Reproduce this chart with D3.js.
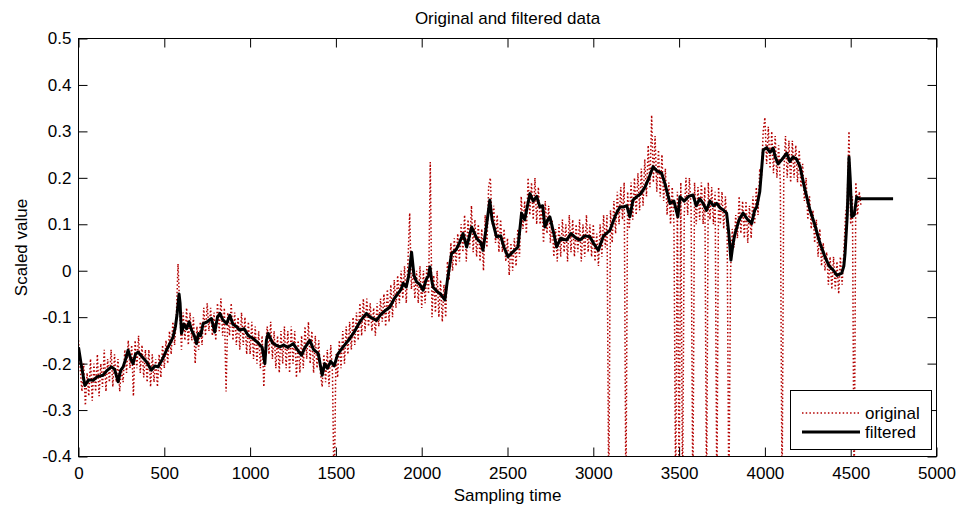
<!DOCTYPE html>
<html>
<head>
<meta charset="utf-8">
<script src="https://cdn.jsdelivr.net/npm/d3@7"></script>
<style>
  html, body { margin: 0; padding: 0; background: #ffffff; }
  svg { display: block; }
  text { font-family: "Liberation Sans", Arial, Helvetica, sans-serif; fill: #000; }
</style>
</head>
<body>
<svg id="chart" width="956" height="508"></svg>
<script>
// ---------- data ----------
const titleText = "Original and filtered data";
const xLabelText = "Sampling time";
const yLabelText = "Scaled value";
const seriesNames = ["original", "filtered"];

const xTicks = [0, 500, 1000, 1500, 2000, 2500, 3000, 3500, 4000, 4500, 5000];
const xTickLabels = ["0", "500", "1000", "1500", "2000", "2500", "3000", "3500", "4000", "4500", "5000"];
const yTicks = [-0.4, -0.3, -0.2, -0.1, 0, 0.1, 0.2, 0.3, 0.4, 0.5];
const yTickLabels = ["-0.4", "-0.3", "-0.2", "-0.1", "0", "0.1", "0.2", "0.3", "0.4", "0.5"];

// original (noisy) signal, one reading every 10 samples
const originalStep = 10;
const originalValues = [
  -0.15, -0.21, -0.26, -0.2, -0.29, -0.22, -0.27, -0.19, -0.28, -0.2, -0.26, -0.18, -0.27, -0.2, -0.25, -0.17, -0.26, -0.19, -0.24, -0.17,
  -0.25, -0.18, -0.24, -0.19, -0.26, -0.21, -0.24, -0.17, -0.22, -0.15, -0.21, -0.16, -0.27, -0.15, -0.21, -0.14, -0.22, -0.16, -0.23, -0.17,
  -0.24, -0.17, -0.25, -0.18, -0.24, -0.19, -0.25, -0.18, -0.23, -0.16, -0.21, -0.15, -0.2, -0.13, -0.18, -0.11, -0.16, -0.1, 0.015, -0.08,
  -0.17, -0.09, -0.15, -0.08, -0.16, -0.09, -0.15, -0.1, -0.2, -0.12, -0.17, -0.11, -0.16, -0.08, -0.14, -0.07, -0.13, -0.08, -0.14, -0.09,
  -0.15, -0.07, -0.13, -0.06, -0.14, -0.08, -0.26, -0.09, -0.14, -0.07, -0.15, -0.09, -0.16, -0.1, -0.17, -0.09, -0.16, -0.1, -0.18, -0.11,
  -0.18, -0.11, -0.19, -0.12, -0.2, -0.13, -0.21, -0.14, -0.25, -0.16, -0.12, -0.18, -0.11, -0.19, -0.13, -0.21, -0.14, -0.22, -0.13, -0.2,
  -0.12, -0.21, -0.13, -0.22, -0.12, -0.2, -0.13, -0.23, -0.15, -0.22, -0.14, -0.21, -0.12, -0.19, -0.11, -0.2, -0.13, -0.22, -0.14, -0.21,
  -0.15, -0.22, -0.25, -0.18, -0.24, -0.17, -0.25, -0.16, -0.22, -0.5, -0.18, -0.23, -0.15, -0.21, -0.13, -0.2, -0.12, -0.18, -0.11, -0.17,
  -0.1, -0.16, -0.09, -0.15, -0.07, -0.14, -0.06, -0.13, -0.06, -0.12, -0.07, -0.13, -0.08, -0.14, -0.07, -0.12, -0.06, -0.11, -0.05, -0.12,
  -0.04, -0.11, -0.03, -0.1, -0.02, -0.08, -0.01, -0.07, 0.0, -0.06, 0.01, -0.07, 0.02, 0.124, -0.04, 0.01, -0.06, 0.0, -0.07, 0.01,
  -0.08, 0.0, -0.07, 0.01, -0.05, 0.234, -0.1, -0.01, -0.09, 0.0, -0.1, -0.02, -0.11, -0.03, -0.1, 0.02, -0.02, 0.06, 0.0, 0.07,
  0.01, 0.08, 0.02, 0.1, 0.04, 0.12, 0.02, 0.11, 0.05, 0.14, 0.04, 0.11, 0.03, 0.1, 0.02, 0.09, 0.0, 0.12, 0.05, 0.18,
  0.2, 0.1, 0.14, 0.06, 0.12, 0.04, 0.11, 0.04, 0.09, 0.02, 0.07, -0.01, 0.06, 0.0, 0.07, 0.01, 0.09, 0.03, 0.16, 0.09,
  0.15, 0.08, 0.2, 0.12, 0.19, 0.11, 0.2, 0.1, 0.18, 0.1, 0.14, 0.06, 0.15, 0.08, 0.14, 0.06, 0.11, 0.03, 0.09, 0.02,
  0.1, 0.03, 0.11, 0.04, 0.1, 0.02, 0.12, 0.04, 0.11, 0.03, 0.1, 0.04, 0.11, 0.02, 0.1, 0.03, 0.12, 0.04, 0.1, 0.03,
  0.1, 0.02, 0.08, 0.01, 0.1, 0.03, 0.12, 0.05, 0.12, -0.5, 0.13, 0.06, 0.15, 0.08, 0.17, 0.1, 0.18, 0.11, 0.19, -0.5,
  0.17, 0.09, 0.19, 0.11, 0.2, 0.12, 0.21, 0.13, 0.22, 0.14, 0.24, 0.16, 0.27, 0.18, 0.335, 0.19, 0.29, 0.17, 0.26, 0.16,
  0.25, 0.15, 0.22, 0.12, 0.19, 0.1, 0.18, 0.1, -0.5, 0.17, -0.5, 0.19, -0.5, 0.12, 0.2, 0.12, 0.2, 0.13, -0.5, 0.19,
  0.1, 0.18, 0.11, 0.19, 0.1, 0.18, -0.5, 0.19, 0.11, 0.18, 0.1, 0.17, -0.5, 0.18, 0.1, 0.17, 0.09, 0.16, 0.08, -0.5,
  0.0, 0.09, 0.05, 0.12, 0.07, 0.16, 0.08, 0.15, 0.07, 0.15, 0.06, 0.14, 0.07, 0.16, 0.1, 0.18, 0.12, 0.22, 0.2, 0.3,
  0.33, 0.23, 0.31, 0.22, 0.3, 0.21, 0.29, 0.2, 0.27, 0.19, -0.5, 0.21, 0.29, 0.2, 0.28, 0.19, 0.28, 0.2, 0.27, 0.19,
  0.26, 0.18, 0.23, 0.15, 0.2, 0.11, 0.16, 0.09, 0.13, 0.06, 0.11, 0.03, 0.09, 0.01, 0.06, 0.0, 0.04, -0.03, 0.03, -0.04,
  0.03, -0.04, 0.02, -0.05, 0.03, -0.03, 0.04, 0.12, 0.15, 0.3, 0.1, 0.16, -0.5, 0.19, 0.12, 0.17, 0.14
];

// filtered signal: sampling time / value
const filteredTimes = [
  0, 15, 37, 60, 85, 110, 143, 165, 192, 210, 231, 245, 260, 275, 289, 305, 318, 332, 347, 370,
  396, 425, 445, 464, 490, 513, 535, 551, 565, 575, 586, 592, 600, 615, 630, 645, 659, 675, 688, 700,
  712, 726, 750, 775, 794, 810, 824, 840, 863, 882, 900, 920, 940, 965, 990, 1018, 1045, 1070, 1086, 1095,
  1105, 1130, 1150, 1173, 1195, 1220, 1251, 1275, 1300, 1320, 1348, 1370, 1397, 1420, 1435, 1450, 1470, 1490, 1510, 1540,
  1581, 1610, 1640, 1660, 1678, 1700, 1737, 1760, 1790, 1815, 1840, 1860, 1880, 1892, 1910, 1925, 1941, 1955, 1970, 1990,
  2008, 2025, 2040, 2048, 2058, 2066, 2090, 2110, 2135, 2150, 2174, 2200, 2220, 2241, 2262, 2291, 2320, 2345, 2357, 2375,
  2397, 2410, 2436, 2460, 2480, 2503, 2530, 2561, 2582, 2600, 2631, 2650, 2670, 2689, 2705, 2718, 2735, 2747, 2770, 2786,
  2810, 2844, 2870, 2900, 2922, 2950, 2980, 3000, 3029, 3060, 3097, 3130, 3155, 3174, 3195, 3213, 3231, 3252, 3275, 3301,
  3325, 3348, 3370, 3398, 3417, 3430, 3447, 3470, 3493, 3505, 3530, 3555, 3581, 3600, 3620, 3640, 3660, 3680, 3700, 3719,
  3740, 3760, 3777, 3790, 3802, 3815, 3826, 3850, 3873, 3900, 3923, 3940, 3952, 3970, 3990, 4010, 4030, 4048, 4060, 4077,
  4100, 4127, 4145, 4164, 4185, 4205, 4230, 4263, 4290, 4321, 4350, 4375, 4399, 4420, 4448, 4460, 4467, 4480, 4490, 4497,
  4506, 4520, 4535, 4550, 4747
];
const filteredValues = [
  -0.165, -0.2, -0.247, -0.235, -0.236, -0.228, -0.225, -0.215, -0.207, -0.212, -0.239, -0.215, -0.207, -0.19, -0.171, -0.19, -0.2, -0.18, -0.175, -0.185,
  -0.196, -0.214, -0.205, -0.207, -0.19, -0.171, -0.155, -0.143, -0.12, -0.092, -0.05, -0.07, -0.135, -0.115, -0.125, -0.11, -0.128, -0.14, -0.157, -0.135,
  -0.14, -0.114, -0.11, -0.103, -0.132, -0.1, -0.092, -0.105, -0.114, -0.096, -0.115, -0.12, -0.128, -0.125, -0.14, -0.146, -0.155, -0.165, -0.2, -0.15,
  -0.135, -0.155, -0.16, -0.164, -0.16, -0.165, -0.157, -0.17, -0.182, -0.165, -0.15, -0.17, -0.178, -0.225, -0.2, -0.21, -0.195, -0.205, -0.18, -0.165,
  -0.146, -0.13, -0.11, -0.1, -0.092, -0.1, -0.107, -0.095, -0.085, -0.078, -0.06, -0.05, -0.04, -0.027, -0.035, -0.01, 0.04, -0.01, -0.024, -0.03,
  -0.042, -0.02, -0.01, 0.008, -0.02, -0.035, -0.045, -0.05, -0.063, -0.02, 0.037, 0.045, 0.06, 0.08, 0.051, 0.094, 0.07, 0.06, 0.044, 0.09,
  0.152, 0.11, 0.073, 0.075, 0.05, 0.03, 0.04, 0.051, 0.124, 0.11, 0.166, 0.15, 0.16, 0.137, 0.14, 0.094, 0.11, 0.116, 0.08, 0.051,
  0.07, 0.066, 0.08, 0.07, 0.066, 0.075, 0.073, 0.06, 0.044, 0.075, 0.087, 0.12, 0.137, 0.137, 0.14, 0.116, 0.152, 0.159, 0.165, 0.18,
  0.2, 0.224, 0.215, 0.21, 0.188, 0.17, 0.145, 0.15, 0.116, 0.159, 0.15, 0.16, 0.163, 0.14, 0.155, 0.145, 0.13, 0.15, 0.14, 0.145,
  0.135, 0.13, 0.124, 0.08, 0.023, 0.06, 0.08, 0.11, 0.124, 0.11, 0.102, 0.13, 0.137, 0.17, 0.26, 0.265, 0.255, 0.264, 0.245, 0.23,
  0.24, 0.253, 0.235, 0.245, 0.24, 0.224, 0.18, 0.13, 0.1, 0.059, 0.03, 0.01, 0.001, -0.01, -0.005, 0.01, 0.037, 0.12, 0.245, 0.2,
  0.116, 0.12, 0.159, 0.155, 0.155
];

// ---------- layout ----------
const W = 956, H = 508;
const plot = { left: 78.5, top: 38.5, right: 936.5, bottom: 456.5 };
const fontSize = 17;
const redColor = "#b40000";

const svg = d3.select("#chart");

const x = d3.scaleLinear().domain([0, 5000]).range([plot.left, plot.right]);
const y = d3.scaleLinear().domain([-0.4, 0.5]).range([plot.bottom, plot.top]);

svg.append("rect").attr("width", W).attr("height", H).attr("fill", "#ffffff");

svg.append("defs").append("clipPath").attr("id", "clipPlot")
  .append("rect")
  .attr("x", plot.left).attr("y", plot.top)
  .attr("width", plot.right - plot.left).attr("height", plot.bottom - plot.top);

const dataG = svg.append("g").attr("clip-path", "url(#clipPlot)");

const originalData = originalValues.map((v, i) => ({ t: i * originalStep, v }));
const filteredData = filteredTimes.map((t, i) => ({ t, v: filteredValues[i] }));

const line = d3.line().x(d => x(d.t)).y(d => y(d.v));

dataG.append("path")
  .datum(originalData)
  .attr("d", line)
  .attr("fill", "none")
  .attr("stroke", redColor)
  .attr("stroke-width", 1.5)
  .attr("stroke-dasharray", "1.5,2.2");

dataG.append("path")
  .datum(filteredData)
  .attr("d", line)
  .attr("fill", "none")
  .attr("stroke", "#000")
  .attr("stroke-width", 3)
  .attr("stroke-linejoin", "round");

// axes
function styleAxis(g) {
  g.select(".domain").remove();
  g.selectAll(".tick line").attr("stroke", "#000").attr("stroke-width", 1);
  g.selectAll(".tick text")
    .style("font-size", fontSize + "px")
    .style("font-family", "'Liberation Sans', Arial, sans-serif")
    .attr("fill", "#000");
}

const xAxisBottom = d3.axisBottom(x).tickValues(xTicks)
  .tickFormat((d, i) => xTickLabels[i]).tickSizeInner(-9).tickSizeOuter(0).tickPadding(10);
svg.append("g").attr("transform", `translate(0,${plot.bottom})`).call(xAxisBottom).call(styleAxis);

const xAxisTop = d3.axisTop(x).tickValues(xTicks)
  .tickFormat("").tickSizeInner(-9).tickSizeOuter(0);
svg.append("g").attr("transform", `translate(0,${plot.top})`).call(xAxisTop).call(styleAxis);

const yAxisLeft = d3.axisLeft(y).tickValues(yTicks)
  .tickFormat((d, i) => yTickLabels[i]).tickSizeInner(-9).tickSizeOuter(0).tickPadding(7);
svg.append("g").attr("transform", `translate(${plot.left},0)`).call(yAxisLeft).call(styleAxis);

const yAxisRight = d3.axisRight(y).tickValues(yTicks)
  .tickFormat("").tickSizeInner(-9).tickSizeOuter(0);
svg.append("g").attr("transform", `translate(${plot.right},0)`).call(yAxisRight).call(styleAxis);

// frame
svg.append("rect")
  .attr("x", plot.left).attr("y", plot.top)
  .attr("width", plot.right - plot.left).attr("height", plot.bottom - plot.top)
  .attr("fill", "none").attr("stroke", "#000").attr("stroke-width", 1);

// title & labels
svg.append("text")
  .attr("x", (plot.left + plot.right) / 2).attr("y", 24)
  .attr("text-anchor", "middle")
  .style("font-size", fontSize + "px")
  .text(titleText);

svg.append("text")
  .attr("x", (plot.left + plot.right) / 2).attr("y", 501)
  .attr("text-anchor", "middle")
  .style("font-size", fontSize + "px")
  .text(xLabelText);

svg.append("text")
  .attr("transform", `translate(27,${(plot.top + plot.bottom) / 2}) rotate(-90)`)
  .attr("text-anchor", "middle")
  .style("font-size", fontSize + "px")
  .text(yLabelText);

// legend
const leg = svg.append("g");
leg.append("rect")
  .attr("x", 790.5).attr("y", 390.5).attr("width", 141).attr("height", 59)
  .attr("fill", "#fff").attr("stroke", "#000").attr("stroke-width", 1);
leg.append("line")
  .attr("x1", 802).attr("x2", 860).attr("y1", 413).attr("y2", 413)
  .attr("stroke", redColor).attr("stroke-width", 1.5).attr("stroke-dasharray", "1.5,2.2");
leg.append("line")
  .attr("x1", 802).attr("x2", 860).attr("y1", 432).attr("y2", 432)
  .attr("stroke", "#000").attr("stroke-width", 3);
leg.append("text").attr("x", 865).attr("y", 419).style("font-size", fontSize + "px").text(seriesNames[0]);
leg.append("text").attr("x", 865).attr("y", 438).style("font-size", fontSize + "px").text(seriesNames[1]);
</script>
</body>
</html>
